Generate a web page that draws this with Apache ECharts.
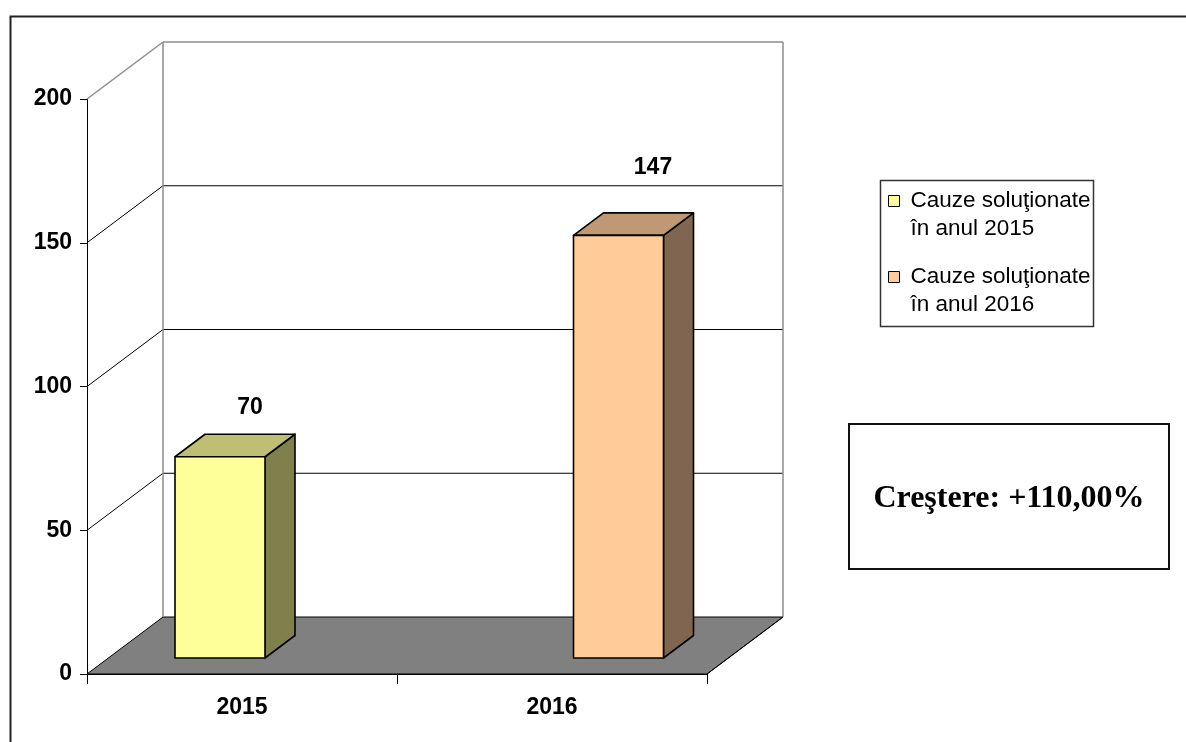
<!DOCTYPE html>
<html>
<head>
<meta charset="utf-8">
<script src="https://cdn.jsdelivr.net/npm/echarts@6/dist/echarts.min.js"></script>
<style>html,body{margin:0;padding:0;background:#fff}#c{width:1186px;height:742px}</style>
</head>
<body>
<div id="c"></div>
<script>
// ---- data ----
const categories = ['2015', '2016'];
const values = [70, 147];
const seriesNames = ['Cauze soluţionate în anul 2015', 'Cauze soluţionate în anul 2016'];
const yTicks = [0, 50, 100, 150, 200];

// ---- style constants ----
const SANS = '"Liberation Sans", Arial, sans-serif';
const SERIF = '"Liberation Serif", "Times New Roman", serif';
const WALL_DX = 76, WALL_DY = -57;     // depth of the chart box
const BAR_DX = 30, BAR_DY = -22.5;     // depth of a bar
const BAR_W = 90;
const faces = [
  { front: '#FFFF99', top: '#BFBF73', side: '#80804D' },
  { front: '#FFCC99', top: '#BF9973', side: '#806650' }
];

const growth = ((values[1] - values[0]) / values[0] * 100).toFixed(2).replace('.', ',');
const growthText = 'Creştere: +' + growth + '%';

function renderWalls(params, api) {
  const cs = params.coordSys;
  const x0 = cs.x, x1 = cs.x + cs.width;
  const yb = api.coord([0, yTicks[0]])[1];
  const yt = api.coord([0, yTicks[yTicks.length - 1]])[1];
  const ch = [];
  ch.push({ type: 'polygon', shape: { points: [[x0, yb], [x1, yb], [x1 + WALL_DX, yb + WALL_DY], [x0 + WALL_DX, yb + WALL_DY]] },
            style: { fill: '#808080', stroke: '#000', lineWidth: 1 } });
  yTicks.slice(1).forEach(function (v, i, arr) {
    const y = api.coord([0, v])[1];
    const last = i === arr.length - 1;
    const col = last ? '#8c8c8c' : '#000';
    const lw = last ? 1.5 : 1;
    ch.push({ type: 'line', shape: { x1: x0 + WALL_DX, y1: y + WALL_DY, x2: x1 + WALL_DX, y2: y + WALL_DY }, style: { stroke: col, lineWidth: lw } });
    ch.push({ type: 'line', shape: { x1: x0, y1: y, x2: x0 + WALL_DX, y2: y + WALL_DY }, style: { stroke: col, lineWidth: lw } });
  });
  ch.push({ type: 'line', shape: { x1: x0 + WALL_DX, y1: yb + WALL_DY, x2: x0 + WALL_DX, y2: yt + WALL_DY }, style: { stroke: '#8c8c8c', lineWidth: 1.5 } });
  ch.push({ type: 'line', shape: { x1: x1 + WALL_DX, y1: yb + WALL_DY, x2: x1 + WALL_DX, y2: yt + WALL_DY }, style: { stroke: '#8c8c8c', lineWidth: 1.5 } });
  ch.push({ type: 'line', shape: { x1: x1, y1: yb, x2: x1 + WALL_DX, y2: yb + WALL_DY }, style: { stroke: '#000', lineWidth: 1 } });
  return { type: 'group', children: ch };
}

function makeBarRenderer(f) {
  return function (params, api) {
    const c = api.value(0), v = api.value(1);
    const pt = api.coord([c, v]);
    const pb = api.coord([c, 0]);
    const xl = pt[0] - BAR_W / 2, xr = pt[0] + BAR_W / 2, yt = pt[1], yb = pb[1];
    const st = { stroke: '#000', lineWidth: 1.6, lineJoin: 'round' };
    return { type: 'group', children: [
      { type: 'polygon', shape: { points: [[xr, yt], [xr + BAR_DX, yt + BAR_DY], [xr + BAR_DX, yb + BAR_DY], [xr, yb]] }, style: Object.assign({ fill: f.side }, st) },
      { type: 'polygon', shape: { points: [[xl, yt], [xr, yt], [xr + BAR_DX, yt + BAR_DY], [xl + BAR_DX, yt + BAR_DY]] }, style: Object.assign({ fill: f.top }, st) },
      { type: 'rect', shape: { x: xl, y: yt, width: xr - xl, height: yb - yt }, style: Object.assign({ fill: f.front }, st) }
    ] };
  };
}

const barSeries = values.map(function (v, i) {
  return {
    type: 'custom', name: seriesNames[i], xAxisIndex: 1, yAxisIndex: 1,
    itemStyle: { color: faces[i].front },
    renderItem: makeBarRenderer(faces[i]),
    data: [[i, v]], clip: false, silent: true, z: 3
  };
});

const option = {
  animation: false,
  backgroundColor: '#fff',
  grid: [
    { left: 87, width: 620, top: 99, height: 575 },
    { left: 20.75, width: 797, top: 83, height: 575 },
    { left: 48.5, width: 806, top: 2.8, height: 623.4 }
  ],
  xAxis: [
    { gridIndex: 0, type: 'category', data: categories, boundaryGap: true,
      axisLine: { lineStyle: { color: '#000', width: 1 } },
      axisTick: { show: true, length: 10, lineStyle: { color: '#000' } },
      axisLabel: { color: '#000', fontFamily: SANS, fontWeight: 'bold', fontSize: 23, margin: 22 },
      splitLine: { show: false } },
    { gridIndex: 1, type: 'category', data: categories, show: false },
    { gridIndex: 2, type: 'category', data: categories, show: false }
  ],
  yAxis: [
    { gridIndex: 0, type: 'value', min: 0, max: 200, interval: 50,
      axisLine: { show: true, lineStyle: { color: '#000', width: 1 } },
      axisTick: { show: true, length: 7, lineStyle: { color: '#000' } },
      axisLabel: { color: '#000', fontFamily: SANS, fontWeight: 'bold', fontSize: 23, margin: 15 },
      splitLine: { show: false } },
    { gridIndex: 1, type: 'value', min: 0, max: 200, interval: 50, show: false },
    { gridIndex: 2, type: 'value', min: 0, max: 200, interval: 50, show: false }
  ],
  legend: {
    orient: 'vertical', left: 888, top: 159, padding: 0, itemGap: -8,
    itemWidth: 11, itemHeight: 11, icon: 'rect',
    itemStyle: { borderColor: '#000', borderWidth: 1 },
    textStyle: { fontFamily: SANS, fontSize: 22.5, lineHeight: 28, color: '#000', padding: [0, 0, 0, 6] },
    formatter: function (name) { return ' \n' + name.replace(' în', '\nîn'); },
    data: seriesNames, selectedMode: false
  },
  graphic: [
    { type: 'rect', left: 8, top: 14, shape: { width: 1200, height: 800 }, style: { fill: 'none', stroke: '#222', lineWidth: 2 }, silent: true, z: -10 },
    { type: 'rect', left: 878, top: 178, shape: { width: 213, height: 146 }, style: { fill: 'none', stroke: '#333', lineWidth: 1.5 }, silent: true },
    { type: 'group', left: 848, top: 423, children: [
      { type: 'rect', shape: { x: 0, y: 0, width: 320, height: 145 }, style: { fill: '#fff', stroke: '#111', lineWidth: 2 } },
      { type: 'text', x: 160, y: 75, style: { text: growthText, font: 'bold 32px ' + SERIF, fill: '#000', align: 'center', verticalAlign: 'middle' } }
    ] }
  ],
  series: [
    { type: 'custom', name: 'walls', xAxisIndex: 0, yAxisIndex: 0, renderItem: renderWalls, data: [[0, 0]], clip: false, silent: true, z: 1 }
  ].concat(barSeries).concat([
    { type: 'scatter', name: 'labels', xAxisIndex: 2, yAxisIndex: 2, symbolSize: 1,
      itemStyle: { color: '#fff', opacity: 1 }, silent: true, z: 5,
      label: { show: true, position: 'inside', color: '#000000', opacity: 1, textBorderWidth: 0, fontFamily: SANS, fontWeight: 'bold', fontSize: 23,
               formatter: function (p) { return String(p.value); } },
      data: values }
  ])
};

const chart = echarts.init(document.getElementById('c'), null, { renderer: 'canvas' });
chart.setOption(option);
</script>
</body>
</html>
